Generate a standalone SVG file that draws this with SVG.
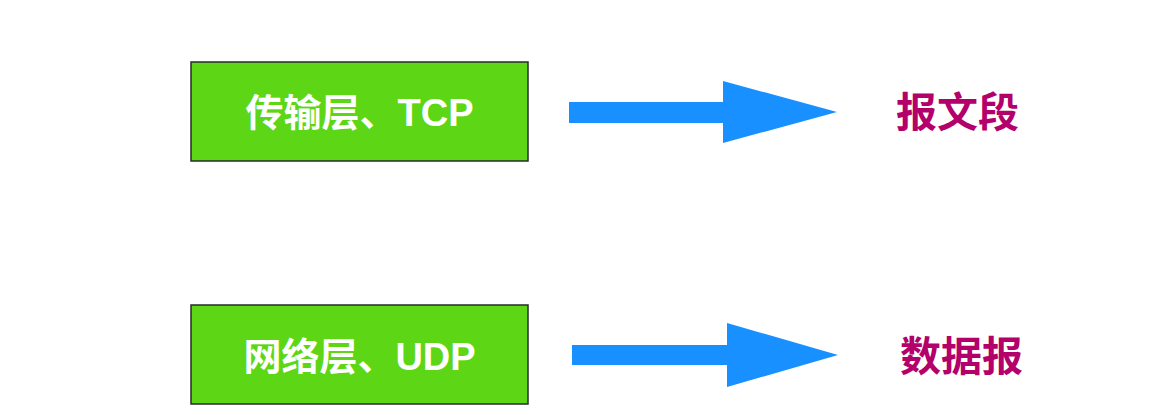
<svg xmlns="http://www.w3.org/2000/svg" width="1166" height="420" viewBox="0 0 1166 420">
  <style>
    .box { fill: #5CD615; stroke: #2a2a2a; stroke-width: 1.5; }
    .lbl { fill: #ffffff; font-family: "Liberation Sans", "Noto Sans CJK SC", sans-serif; font-size: 38px; font-weight: bold; text-anchor: middle; }
    .out { fill: #B4006B; font-family: "Noto Sans CJK SC", sans-serif; font-size: 41px; font-weight: bold; text-anchor: start; }
    .arrow { fill: #1890FF; }
  </style>
  <rect width="1166" height="420" fill="#ffffff"/>

  <g id="transport">
    <rect class="box" x="191" y="62" width="337" height="99"/>
    <text class="lbl" x="359.5" y="126">传输层、TCP</text>
  </g>

  <g id="network">
    <rect class="box" x="191" y="305" width="337" height="99"/>
    <text class="lbl" x="359.5" y="370">网络层、UDP</text>
  </g>

  <g id="segment">
    <text class="out" x="896" y="127">报文段</text>
  </g>

  <g id="datagram">
    <text class="out" x="900" y="371">数据报</text>
  </g>

  <g id="connectors">
    <polygon class="arrow" points="569,102 723,102 723,81 837,112 723,143 723,123 569,123"/>
    <polygon class="arrow" points="572,345 727,345 727,323 838,355 727,387 727,365 572,365"/>
  </g>
</svg>
